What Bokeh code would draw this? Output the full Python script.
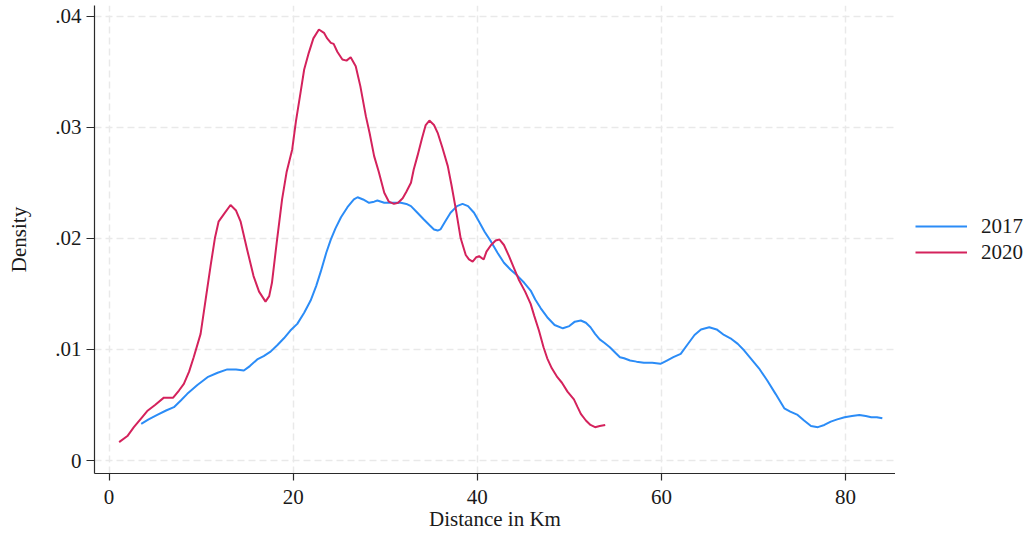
from bokeh.plotting import figure
from bokeh.layouts import row
from bokeh.models import Legend, LegendItem, FixedTicker, Range1d
from bokeh.embed import file_html
from bokeh.resources import INLINE

# ---- data ----
x2017 = [3.5, 4.3, 5.24, 6.2, 7.05, 7.8, 8.5, 9.6, 10.7, 11.8, 12.85, 13.8, 14.65, 15.3, 16.1, 16.8,
         17.55, 18.3, 19.0, 19.7, 20.45, 21.2, 21.9, 22.5, 23.0, 23.6, 24.1, 24.6, 25.2, 25.9, 26.6,
         27.0, 27.6, 28.25, 28.8, 29.15, 29.9, 30.8, 31.7, 32.3, 32.8, 33.5, 34.2, 34.8, 35.3, 35.7,
         36.0, 36.5, 37.1, 37.8, 38.4, 39.0, 39.65, 40.2, 40.8, 41.5, 42.2, 42.9, 43.6, 44.4, 45.1,
         45.8, 46.3, 46.9, 47.6, 48.4, 49.3, 50.0, 50.6, 51.25, 51.8, 52.3, 52.8, 53.3, 53.8, 54.4,
         55.0, 55.5, 55.95, 56.6, 57.3, 58.1, 59.0, 59.9, 60.6, 61.3, 62.1, 62.8, 63.6, 64.3, 65.2,
         66.0, 66.8, 67.5, 68.3, 69.0, 69.7, 70.6, 71.5, 72.4, 73.35, 74.0, 74.8, 75.5, 76.25, 77.0,
         77.7, 78.4, 79.1, 79.9, 80.7, 81.5, 82.2, 82.8, 83.4, 84.0]
y2017 = [0.0033, 0.0037, 0.0041, 0.0045, 0.0048, 0.0054, 0.0060, 0.0068, 0.0075, 0.0079, 0.0082,
         0.0082, 0.0081, 0.0085, 0.0091, 0.0094, 0.0098, 0.0104, 0.0110, 0.0117, 0.0123, 0.0133,
         0.0144, 0.0157, 0.0170, 0.0187, 0.0199, 0.0209, 0.0219, 0.0228, 0.0235, 0.0237, 0.0235,
         0.0232, 0.0233, 0.0234, 0.0232, 0.0232, 0.0232, 0.0231, 0.0229, 0.0223, 0.0217, 0.0212,
         0.0208, 0.0207, 0.0208, 0.0215, 0.0223, 0.0229, 0.0231, 0.0229, 0.0223, 0.0215, 0.0206,
         0.0197, 0.0187, 0.0178, 0.0172, 0.0166, 0.0160, 0.0153, 0.0145, 0.0137, 0.0129, 0.0122,
         0.0119, 0.0121, 0.0125, 0.0126, 0.0124, 0.0120, 0.0114, 0.0109, 0.0106, 0.0102, 0.0097,
         0.0093, 0.0092, 0.0090, 0.0089, 0.0088, 0.0088, 0.0087, 0.0090, 0.0093, 0.0096, 0.0104,
         0.0113, 0.0118, 0.0120, 0.0118, 0.0113, 0.0110, 0.0105, 0.0099, 0.0092, 0.0083, 0.0072,
         0.0060, 0.0047, 0.0044, 0.0041, 0.0036, 0.0031, 0.0030, 0.0032, 0.0035, 0.0037, 0.0039,
         0.0040, 0.0041, 0.0040, 0.0039, 0.0039, 0.0038]

x2020 = [1.1, 2.0, 2.7, 3.5, 4.15, 5.0, 5.96, 6.97, 7.6, 8.13, 8.7, 9.2, 9.95, 10.5, 11.03, 11.5,
         11.9, 12.5, 13.2, 13.8, 14.3, 15.0, 15.7, 16.3, 17.0, 17.4, 17.7, 18.2, 18.8, 19.3, 19.9,
         20.3, 20.8, 21.2, 21.7, 22.2, 22.8, 23.35, 23.7, 24.1, 24.4, 24.8, 25.35, 25.8, 26.25, 26.8,
         27.3, 27.9, 28.3, 28.8, 29.3, 29.9, 30.4, 30.95, 31.4, 31.9, 32.3, 32.8, 33.1, 33.5, 34.0,
         34.4, 34.8, 35.3, 35.7, 36.2, 36.8, 37.2, 37.7, 38.2, 38.75, 39.1, 39.5, 39.9, 40.2, 40.7,
         41.0, 41.5, 42.0, 42.4, 42.9, 43.45, 44.0, 44.5, 45.2, 45.8, 46.2, 46.7, 47.2, 47.6, 48.1,
         48.7, 49.2, 49.8, 50.5, 50.9, 51.25, 51.8, 52.3, 52.8, 53.3, 53.9]
y2020 = [0.00165, 0.0022, 0.0030, 0.0038, 0.00445, 0.0050, 0.00566, 0.00566, 0.0063, 0.0069, 0.0080,
         0.0093, 0.0114, 0.0145, 0.0175, 0.0200, 0.0215, 0.0222, 0.0230, 0.0225, 0.0215, 0.0190,
         0.0166, 0.0152, 0.0143, 0.0148, 0.0160, 0.0195, 0.0235, 0.0260, 0.0280, 0.0305, 0.0331,
         0.0352, 0.0367, 0.0380, 0.0388, 0.0385, 0.0380, 0.0376, 0.0375, 0.0368, 0.0361, 0.0360,
         0.0363, 0.0355, 0.0337, 0.0310, 0.0295, 0.0274, 0.0260, 0.0241, 0.0233, 0.0231, 0.0232,
         0.0236, 0.0242, 0.0250, 0.0262, 0.0274, 0.0290, 0.0302, 0.0306, 0.0302, 0.0295, 0.0282,
         0.0265, 0.0248, 0.0225, 0.0200, 0.0185, 0.0181, 0.0179, 0.0183, 0.0184, 0.0181, 0.0188,
         0.0194, 0.0198, 0.0199, 0.0194, 0.0184, 0.0173, 0.0163, 0.0152, 0.0141, 0.0130, 0.0117,
         0.0102, 0.0092, 0.0083, 0.0075, 0.0070, 0.0062, 0.0055, 0.0048, 0.0042, 0.0036, 0.0032,
         0.0030, 0.0031, 0.0032]

x_ticks = [0, 20, 40, 60, 80]
y_ticks = [0, 0.01, 0.02, 0.03, 0.04]
y_tick_labels = ["0", ".01", ".02", ".03", ".04"]
series_names = ["2017", "2020"]
colors = ["#2b8cf7", "#d4225c"]

FONT = "Liberation Serif"
FS = "21px"

# ---- main plot ----
p = figure(width=895, height=535, output_backend="svg", toolbar_location=None,
           min_border_left=94, min_border_right=0, min_border_top=5, min_border_bottom=62,
           x_range=Range1d(-1.575, 85.43), y_range=Range1d(-0.00117, 0.04096),
           background_fill_color="white", border_fill_color="white")
p.outline_line_color = None

r1 = p.line(x2017, y2017, line_color=colors[0], line_width=2)
r2 = p.line(x2020, y2020, line_color=colors[1], line_width=2)

for g in (p.xgrid, p.ygrid):
    g.grid_line_color = "#e9e9e9"
    g.grid_line_dash = "7 4"
    g.grid_line_width = 1.5
p.xgrid.ticker = FixedTicker(ticks=x_ticks)
p.ygrid.ticker = FixedTicker(ticks=y_ticks)

xa = p.xaxis[0]
ya = p.yaxis[0]
xa.ticker = FixedTicker(ticks=x_ticks)
ya.ticker = FixedTicker(ticks=y_ticks)
ya.major_label_overrides = {v: s for v, s in zip(y_ticks, y_tick_labels)}
xa.axis_label = "Distance in Km"
ya.axis_label = "Density"
for ax in (xa, ya):
    ax.axis_line_color = "#2a2a2a"
    ax.axis_line_width = 1.2
    ax.major_tick_line_color = "#2a2a2a"
    ax.major_tick_line_width = 1.2
    ax.major_tick_in = 0
    ax.minor_tick_line_color = None
    ax.major_label_text_font = FONT
    ax.major_label_text_font_size = FS
    ax.major_label_text_color = "#1a1a1a"
    ax.axis_label_text_font = FONT
    ax.axis_label_text_font_size = FS
    ax.axis_label_text_font_style = "normal"
    ax.axis_label_text_color = "#1a1a1a"
xa.major_tick_out = 7
xa.major_label_standoff = 9
xa.axis_label_standoff = 0
ya.major_tick_out = 8
ya.major_label_standoff = 5
ya.axis_label_standoff = 21
ya.major_label_orientation = "horizontal"

# ---- legend panel (separate narrow figure to the right; its ranges keep the lines out of view) ----
q = figure(width=132, height=535, output_backend="svg", toolbar_location=None,
           min_border=0, x_range=Range1d(-20, -10), y_range=Range1d(-20, -10),
           background_fill_color="white", border_fill_color="white")
q.outline_line_color = None
q.axis.visible = False
q.grid.visible = False
l1 = q.line(x2017, y2017, line_color=colors[0], line_width=2)
l2 = q.line(x2020, y2020, line_color=colors[1], line_width=2)

legend = Legend(items=[LegendItem(label=series_names[0], renderers=[l1]),
                       LegendItem(label=series_names[1], renderers=[l2])],
                location=(20, 208), orientation="vertical")
legend.border_line_color = None
legend.background_fill_alpha = 0
legend.padding = 0
legend.margin = 0
legend.spacing = 0
legend.glyph_width = 52
legend.glyph_height = 26
legend.label_height = 26
legend.label_standoff = 14
legend.label_text_font = FONT
legend.label_text_font_size = FS
legend.label_text_color = "#1a1a1a"
q.add_layout(legend, "center")

layout = row(p, q, spacing=0)
open("out.html", "w").write(file_html(layout, INLINE))
